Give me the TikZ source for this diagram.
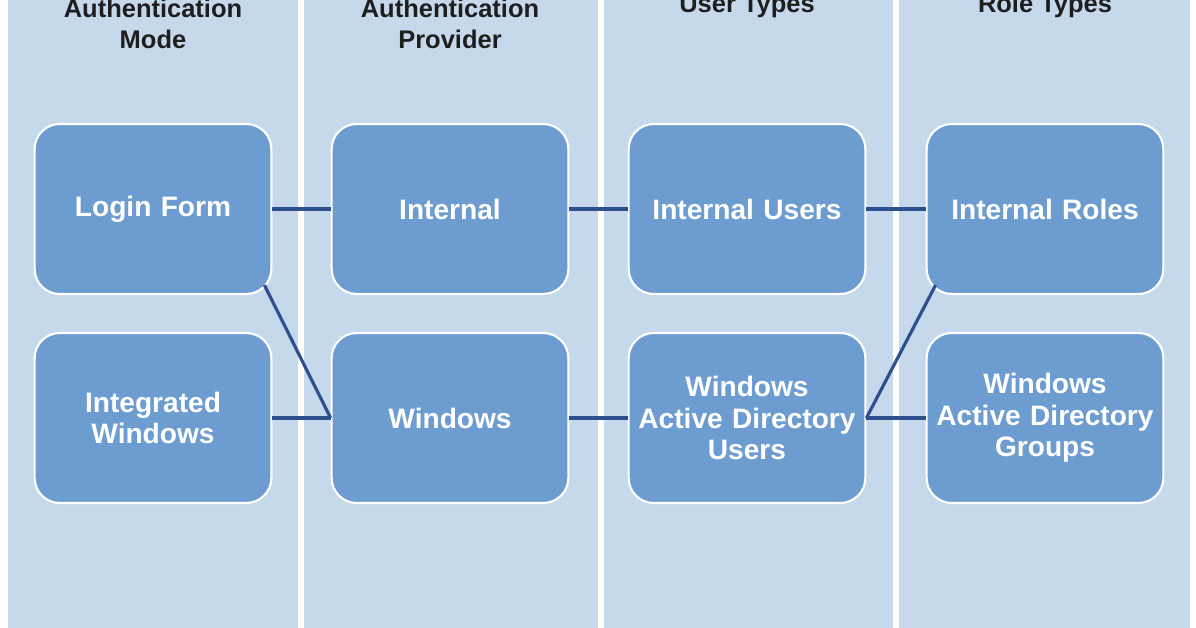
\documentclass[tikz,border=0pt]{standalone}
\usepackage{fontspec}
\setmainfont{Liberation Sans}
\usetikzlibrary{positioning}
\definecolor{lane}{HTML}{C6D9EC}
\definecolor{boxfill}{HTML}{6D9CD0}
\definecolor{wire}{HTML}{2E4F8E}
\definecolor{head}{HTML}{1E1E1E}

\begin{document}
\begin{tikzpicture}[
    x=0.02cm, y=-0.02cm,
    box/.style={draw=white, line width=1.2pt, fill=boxfill, rounded corners=0.5cm, minimum width=4.55cm, minimum height=3.4cm, text width=4.5cm, align=center, text=white, font=\fontsize{16}{18}\selectfont\bfseries},
    title/.style={align=center, text=head, font=\fontsize{14.5}{18}\selectfont\bfseries},
    wire/.style={draw=wire, line width=1.8pt}
    ]

    \useasboundingbox (0,0) rectangle (1196,628);
    \fill[white] (0,0) rectangle (1196,628);

    % lanes
    \fill[lane] (8,0) rectangle (298,628);
    \fill[lane] (304,0) rectangle (598,628);
    \fill[lane] (604,0) rectangle (893,628);
    \fill[lane] (899,0) rectangle (1190,628);

    % titles
    \node[title] (t_mode) at (153,24) {Authentication\\Mode};
    \node[title] (t_prov) at (450,24) {Authentication\\Provider};
    \node[title] (t_user) at (747,24) {User Types\\\strut};
    \node[title] (t_role) at (1045,24) {Role Types\\\strut};

    % boxes
    \node[box] (login) at (153,209) {Login Form};
    \node[box] (integ) at (153,418) {Integrated\\Windows};
    \node[box] (intern) at (450,209) {Internal};
    \node[box] (win) at (450,418) {Windows};
    \node[box] (iusers) at (747,209) {Internal Users};
    \node[box] (wusers) at (747,418) {Windows\\Active Directory\\Users};
    \node[box] (iroles) at (1045,209) {Internal Roles};
    \node[box] (wgroups) at (1045,418) {Windows\\Active Directory\\Groups};

    % links
    \draw[wire] (login) -- (intern);
    \draw[wire] (intern) -- (iusers);
    \draw[wire] (iusers) -- (iroles);
    \draw[wire] (integ) -- (win);
    \draw[wire] ([xshift=-0.16cm,yshift=0.2cm]login.south east) -- (win.west);
    \draw[wire] (win) -- (wusers);
    \draw[wire] (wusers) -- (wgroups);
    \draw[wire] (wusers.east) -- ([xshift=0.2cm,yshift=0.2cm]iroles.south west);

\end{tikzpicture}
\end{document}
